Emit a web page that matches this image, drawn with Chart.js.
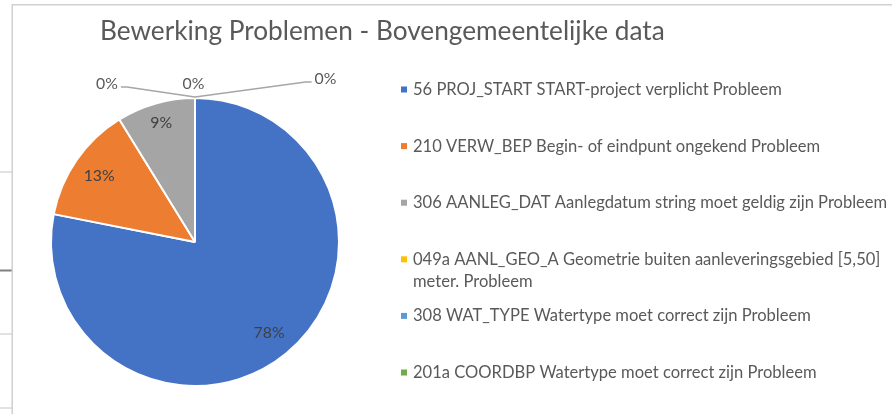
<!DOCTYPE html>
<html><head><meta charset="utf-8">
<script src="https://cdn.jsdelivr.net/npm/chart.js@4.4.1/dist/chart.umd.min.js"></script>
<style>html,body{margin:0;padding:0;background:#fff;overflow:hidden}canvas{display:block}</style>
</head><body>
<canvas id="c" width="892" height="414"></canvas>
<script>
const chartTitle = 'Bewerking Problemen - Bovengemeentelijke data';
const categories = [
  '56 PROJ_START START-project verplicht Probleem',
  '210 VERW_BEP Begin- of eindpunt ongekend Probleem',
  '306 AANLEG_DAT Aanlegdatum string moet geldig zijn Probleem',
  ['049a AANL_GEO_A Geometrie buiten aanleveringsgebied [5,50]', 'meter. Probleem'],
  '308 WAT_TYPE Watertype moet correct zijn Probleem',
  '201a COORDBP Watertype moet correct zijn Probleem'
];
const shares = [78.1, 13.1, 8.8, 0, 0, 0];
const colors = ['#4472C4', '#ED7D31', '#A5A5A5', '#FFC000', '#5B9BD5', '#70AD47'];

const FONT = 'Lato';
function fitSize(ctx, text, target, base) {
  ctx.font = base + 'px ' + FONT;
  return base * target / ctx.measureText(text).width;
}

// label offsets for the zero slices (relative to the slice's outer point)
const zeroLabelOffsets = [[-88, -13], [-1.5, -13], [130.5, -18]];

const decoPlugin = {
  id: 'deco',
  beforeDraw(chart) {
    const ctx = chart.ctx;
    ctx.save();
    ctx.fillStyle = '#fff';
    ctx.fillRect(0, 0, chart.width, chart.height);
    ctx.strokeStyle = '#d9d9d9'; ctx.lineWidth = 1.5;
    [172, 334, 408].forEach(y => { ctx.beginPath(); ctx.moveTo(0, y); ctx.lineTo(12, y); ctx.stroke(); });
    ctx.strokeStyle = '#7f7f7f'; ctx.lineWidth = 2;
    ctx.beginPath(); ctx.moveTo(0, 270.5); ctx.lineTo(12, 270.5); ctx.stroke();
    ctx.strokeStyle = '#d0d0d0'; ctx.lineWidth = 1.5;
    ctx.strokeRect(12.25, 4.75, 900, 430);
    ctx.restore();
  },
  afterDraw(chart) {
    const ctx = chart.ctx;
    ctx.save();
    // title
    const ts = fitSize(ctx, chartTitle, 565, 24);
    ctx.font = ts + 'px ' + FONT;
    ctx.fillStyle = '#595959';
    ctx.textBaseline = 'alphabetic';
    ctx.textAlign = 'left';
    ctx.fillText(chartTitle, 100, 39.5);
    // legend
    const ls = fitSize(ctx, categories[0], 369, 16);
    ctx.font = ls + 'px ' + FONT;
    const lineH = 22, step = 56.6;
    const ds = chart.data.datasets[0];
    chart.data.labels.forEach((lab, i) => {
      const y = 89.5 + i * step;
      const lines = Array.isArray(lab) ? lab : [lab];
      ctx.fillStyle = ds.backgroundColor[i];
      ctx.fillRect(401, y - 3, 6, 6);
      ctx.fillStyle = '#595959';
      lines.forEach((t, k) => ctx.fillText(t, 413, y + 5.5 + k * lineH));
    });
    ctx.restore();
  }
};

const labelPlugin = {
  id: 'pctLabels',
  afterDatasetsDraw(chart) {
    const ctx = chart.ctx;
    const meta = chart.getDatasetMeta(0);
    const vals = chart.data.datasets[0].data;
    const total = vals.reduce((a, b) => a + b, 0);
    const fs = fitSize(ctx, '78%', 31, 16);
    ctx.save();
    ctx.font = fs + 'px ' + FONT;
    ctx.textAlign = 'center';
    ctx.textBaseline = 'middle';
    let z = 0;
    meta.data.forEach((arc, i) => {
      const p = arc.getProps(['x', 'y', 'startAngle', 'endAngle', 'outerRadius'], true);
      const mid = (p.startAngle + p.endAngle) / 2;
      const txt = Math.round(vals[i] / total * 100) + '%';
      if (vals[i] / total >= 0.005) {
        const r = p.outerRadius * (vals[i] / total < 0.1 ? 0.86 : 0.81);
        ctx.fillStyle = '#404040';
        ctx.fillText(txt, p.x + Math.cos(mid) * r, p.y + Math.sin(mid) * r + 0.5);
      } else {
        const ax = p.x + Math.cos(mid) * p.outerRadius;
        const ay = p.y + Math.sin(mid) * p.outerRadius - 1;
        const off = zeroLabelOffsets[z++] || [0, -14];
        const lx = ax + off[0], ly = ay + off[1];
        ctx.fillStyle = '#595959';
        ctx.fillText(txt, lx, ly);
        const hw = ctx.measureText(txt).width / 2;
        if (Math.abs(off[0]) > 20) {
          const side = off[0] < 0 ? 1 : -1;
          const sx = lx + side * (hw + 3);
          const sy = ly + 3;
          ctx.strokeStyle = '#a6a6a6';
          ctx.lineWidth = 1.3;
          ctx.beginPath();
          ctx.moveTo(sx, sy);
          ctx.lineTo(sx + side * 6, sy);
          ctx.lineTo(ax, ay);
          ctx.stroke();
        }
      }
    });
    ctx.restore();
  }
};

function build() {
  new Chart(document.getElementById('c'), {
    type: 'pie',
    data: {
      labels: categories,
      datasets: [{
        data: shares,
        backgroundColor: colors,
        borderColor: '#ffffff',
        borderWidth: 2
      }]
    },
    options: {
      responsive: false,
      animation: false,
      devicePixelRatio: 1,
      layout: { padding: { left: 50, top: 97, right: 552, bottom: 27 } },
      plugins: { legend: { display: false }, title: { display: false }, tooltip: { enabled: false } }
    },
    plugins: [decoPlugin, labelPlugin]
  });
}
if (document.fonts && document.fonts.load) {
  document.fonts.load('16px ' + FONT).then(build, build);
} else { build(); }
</script>
</body></html>
